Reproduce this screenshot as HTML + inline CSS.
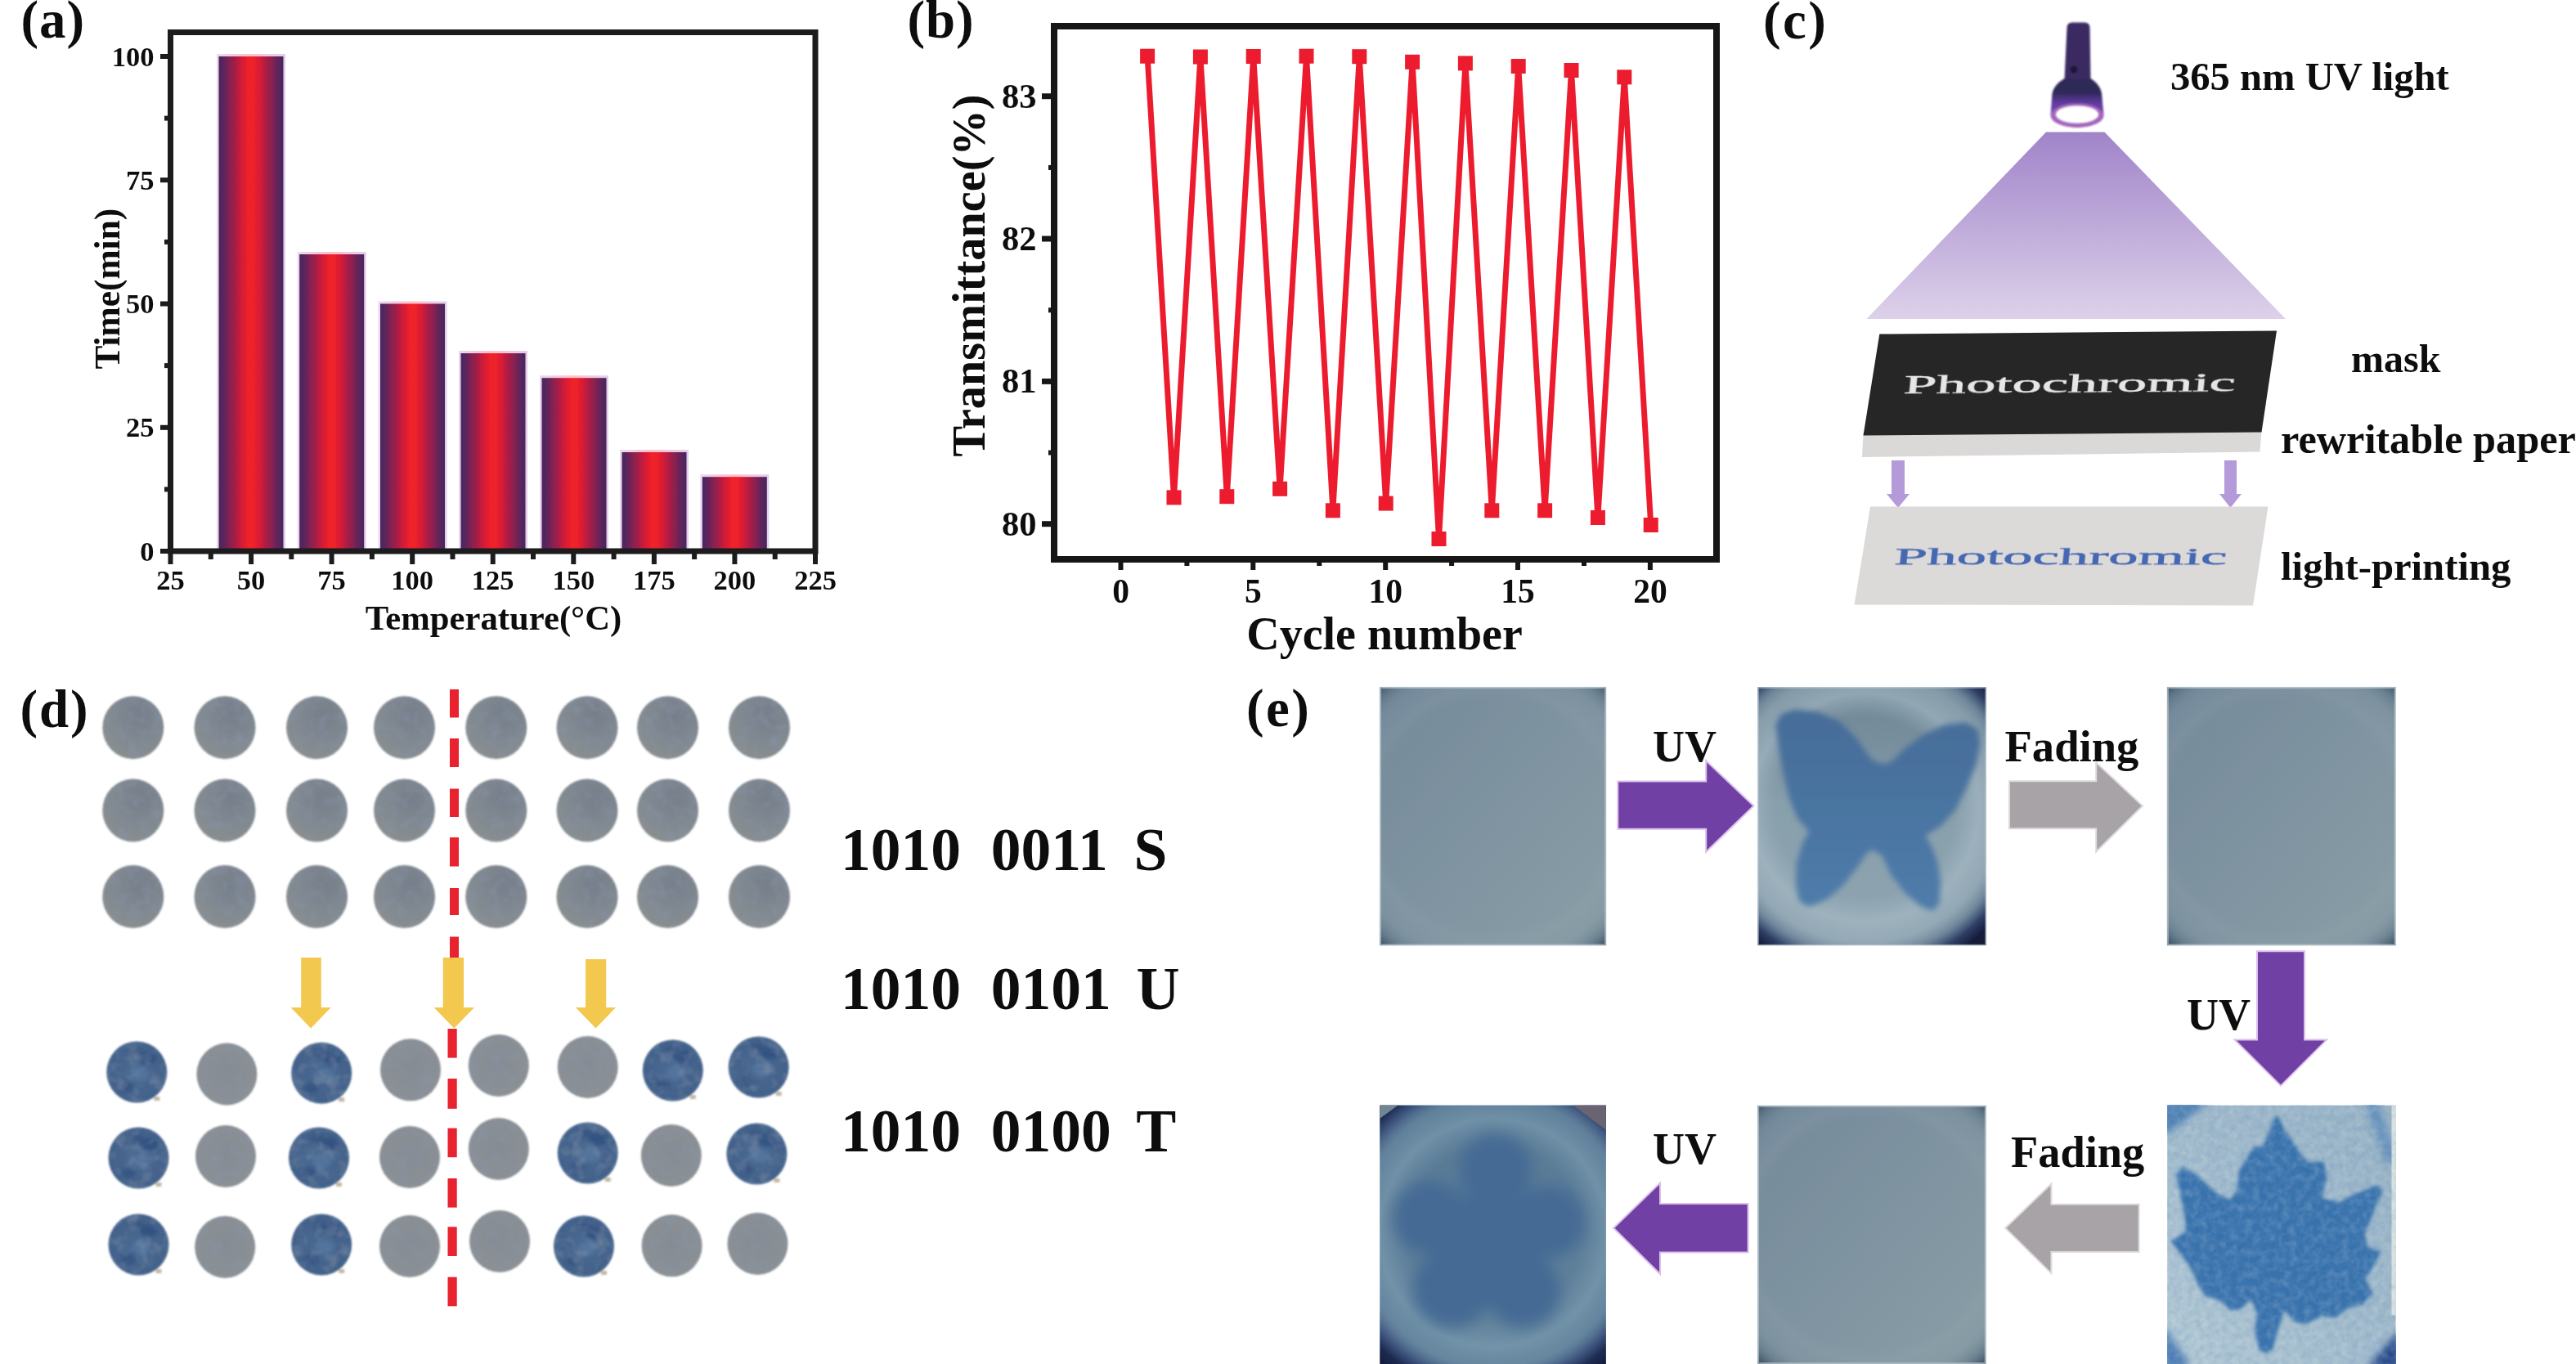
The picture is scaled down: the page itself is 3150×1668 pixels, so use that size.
<!DOCTYPE html>
<html><head><meta charset="utf-8"><title>figure</title>
<style>html,body{margin:0;padding:0;background:#fff;}svg{display:block;}text{font-family:"Liberation Serif",serif;font-weight:bold;fill:#111;}</style></head><body>
<svg width="3150" height="1668" viewBox="0 0 3150 1668">
<defs>
<linearGradient id="bar" x1="0" x2="1" y1="0" y2="0"><stop offset="0" stop-color="#4b275f"/><stop offset="0.05" stop-color="#52265f"/><stop offset="0.19" stop-color="#8c2050"/><stop offset="0.355" stop-color="#d21d38"/><stop offset="0.45" stop-color="#ed2029"/><stop offset="0.55" stop-color="#ed2029"/><stop offset="0.645" stop-color="#d21d38"/><stop offset="0.81" stop-color="#8c2050"/><stop offset="0.95" stop-color="#52265f"/><stop offset="1" stop-color="#4b275f"/></linearGradient>
<linearGradient id="barl" x1="0" x2="1" y1="0" y2="0"><stop offset="0" stop-color="#ead9f0"/><stop offset="0.3" stop-color="#f3c6dc"/><stop offset="0.5" stop-color="#ffbfc8"/><stop offset="0.7" stop-color="#f3c6dc"/><stop offset="1" stop-color="#e2d0ea"/></linearGradient>
<linearGradient id="cone" x1="0" x2="0" y1="0" y2="1"><stop offset="0" stop-color="#a084c9"/><stop offset="1" stop-color="#ddd1ea"/></linearGradient>
<filter id="b05" x="-5%" y="-30%" width="110%" height="160%"><feGaussianBlur stdDeviation="0.7"/></filter>
<filter id="b1" x="-5%" y="-5%" width="110%" height="110%"><feGaussianBlur stdDeviation="1"/></filter>
<filter id="b2" x="-10%" y="-10%" width="120%" height="120%"><feGaussianBlur stdDeviation="2"/></filter>
<filter id="b4" x="-10%" y="-10%" width="120%" height="120%"><feGaussianBlur stdDeviation="3.5"/></filter>
<filter id="b5" x="-10%" y="-10%" width="120%" height="120%"><feGaussianBlur stdDeviation="5"/></filter>
<filter id="b9" x="-20%" y="-20%" width="140%" height="140%"><feGaussianBlur stdDeviation="9"/></filter>
<filter id="b14" x="-30%" y="-30%" width="160%" height="160%"><feGaussianBlur stdDeviation="14"/></filter>
<filter id="gb" x="0" y="0" width="100%" height="100%" filterUnits="userSpaceOnUse"><feGaussianBlur stdDeviation="0.65"/></filter>
</defs>
<rect x="0" y="0" width="3150" height="1668" fill="#fff"/>
<g filter="url(#gb)">
<g id="pa">
<text x="25.5" y="46" font-size="64.8" letter-spacing="1">(a)</text>
<rect x="265.0" y="66.0" width="84" height="608.0" fill="url(#barl)"/>
<rect x="267.5" y="69.0" width="79" height="605.0" fill="url(#bar)"/>
<rect x="363.7" y="308.0" width="84" height="366.0" fill="url(#barl)"/>
<rect x="366.2" y="311.0" width="79" height="363.0" fill="url(#bar)"/>
<rect x="462.5" y="368.5" width="84" height="305.5" fill="url(#barl)"/>
<rect x="465.0" y="371.5" width="79" height="302.5" fill="url(#bar)"/>
<rect x="561.0" y="429.0" width="84" height="245.0" fill="url(#barl)"/>
<rect x="563.5" y="432.0" width="79" height="242.0" fill="url(#bar)"/>
<rect x="660.0" y="459.2" width="84" height="214.8" fill="url(#barl)"/>
<rect x="662.5" y="462.2" width="79" height="211.8" fill="url(#bar)"/>
<rect x="758.0" y="550.0" width="84" height="124.0" fill="url(#barl)"/>
<rect x="760.5" y="553.0" width="79" height="121.0" fill="url(#bar)"/>
<rect x="856.3" y="580.2" width="84" height="93.8" fill="url(#barl)"/>
<rect x="858.8" y="583.2" width="79" height="90.8" fill="url(#bar)"/>
<rect x="208.5" y="39.5" width="788.5" height="634.5" fill="none" stroke="#1c1c1e" stroke-width="7"/>
<line x1="196" x2="208" y1="674.0" y2="674.0" stroke="#1c1c1e" stroke-width="6"/>
<text x="188.5" y="685.5" font-size="34.5" text-anchor="end">0</text>
<line x1="196" x2="208" y1="522.8" y2="522.8" stroke="#1c1c1e" stroke-width="6"/>
<text x="188.5" y="534.2" font-size="34.5" text-anchor="end">25</text>
<line x1="196" x2="208" y1="371.5" y2="371.5" stroke="#1c1c1e" stroke-width="6"/>
<text x="188.5" y="383.0" font-size="34.5" text-anchor="end">50</text>
<line x1="196" x2="208" y1="220.2" y2="220.2" stroke="#1c1c1e" stroke-width="6"/>
<text x="188.5" y="231.8" font-size="34.5" text-anchor="end">75</text>
<line x1="196" x2="208" y1="69.0" y2="69.0" stroke="#1c1c1e" stroke-width="6"/>
<text x="188.5" y="80.5" font-size="34.5" text-anchor="end">100</text>
<line x1="201" x2="208" y1="598.4" y2="598.4" stroke="#1c1c1e" stroke-width="6"/>
<line x1="201" x2="208" y1="447.1" y2="447.1" stroke="#1c1c1e" stroke-width="6"/>
<line x1="201" x2="208" y1="295.9" y2="295.9" stroke="#1c1c1e" stroke-width="6"/>
<line x1="201" x2="208" y1="144.6" y2="144.6" stroke="#1c1c1e" stroke-width="6"/>
<line x1="208.5" x2="208.5" y1="674" y2="690" stroke="#1c1c1e" stroke-width="6"/>
<text x="208.5" y="721" font-size="34.5" text-anchor="middle">25</text>
<line x1="307.1" x2="307.1" y1="674" y2="690" stroke="#1c1c1e" stroke-width="6"/>
<text x="307.1" y="721" font-size="34.5" text-anchor="middle">50</text>
<line x1="405.6" x2="405.6" y1="674" y2="690" stroke="#1c1c1e" stroke-width="6"/>
<text x="405.6" y="721" font-size="34.5" text-anchor="middle">75</text>
<line x1="504.2" x2="504.2" y1="674" y2="690" stroke="#1c1c1e" stroke-width="6"/>
<text x="504.2" y="721" font-size="34.5" text-anchor="middle">100</text>
<line x1="602.7" x2="602.7" y1="674" y2="690" stroke="#1c1c1e" stroke-width="6"/>
<text x="602.7" y="721" font-size="34.5" text-anchor="middle">125</text>
<line x1="701.3" x2="701.3" y1="674" y2="690" stroke="#1c1c1e" stroke-width="6"/>
<text x="701.3" y="721" font-size="34.5" text-anchor="middle">150</text>
<line x1="799.9" x2="799.9" y1="674" y2="690" stroke="#1c1c1e" stroke-width="6"/>
<text x="799.9" y="721" font-size="34.5" text-anchor="middle">175</text>
<line x1="898.4" x2="898.4" y1="674" y2="690" stroke="#1c1c1e" stroke-width="6"/>
<text x="898.4" y="721" font-size="34.5" text-anchor="middle">200</text>
<line x1="997.0" x2="997.0" y1="674" y2="690" stroke="#1c1c1e" stroke-width="6"/>
<text x="997.0" y="721" font-size="34.5" text-anchor="middle">225</text>
<line x1="257.8" x2="257.8" y1="674" y2="684" stroke="#1c1c1e" stroke-width="6"/>
<line x1="356.3" x2="356.3" y1="674" y2="684" stroke="#1c1c1e" stroke-width="6"/>
<line x1="454.9" x2="454.9" y1="674" y2="684" stroke="#1c1c1e" stroke-width="6"/>
<line x1="553.5" x2="553.5" y1="674" y2="684" stroke="#1c1c1e" stroke-width="6"/>
<line x1="652.0" x2="652.0" y1="674" y2="684" stroke="#1c1c1e" stroke-width="6"/>
<line x1="750.6" x2="750.6" y1="674" y2="684" stroke="#1c1c1e" stroke-width="6"/>
<line x1="849.1" x2="849.1" y1="674" y2="684" stroke="#1c1c1e" stroke-width="6"/>
<line x1="947.7" x2="947.7" y1="674" y2="684" stroke="#1c1c1e" stroke-width="6"/>
<text x="603.5" y="770" font-size="42.7" text-anchor="middle">Temperature(°C)</text>
<text transform="translate(146,353.2) rotate(-90)" font-size="43.4" text-anchor="middle">Time(min)</text>
</g>
<g id="pb">
<text x="1109.5" y="46" font-size="64.8" letter-spacing="1">(b)</text>
<rect x="1289" y="32" width="810" height="652" fill="none" stroke="#161618" stroke-width="8"/>
<line x1="1274" x2="1289" y1="640.7" y2="640.7" stroke="#161618" stroke-width="7"/>
<text x="1267.5" y="654.5" font-size="42.5" text-anchor="end">80</text>
<line x1="1274" x2="1289" y1="466.4" y2="466.4" stroke="#161618" stroke-width="7"/>
<text x="1267.5" y="480.2" font-size="42.5" text-anchor="end">81</text>
<line x1="1274" x2="1289" y1="292" y2="292" stroke="#161618" stroke-width="7"/>
<text x="1267.5" y="305.8" font-size="42.5" text-anchor="end">82</text>
<line x1="1274" x2="1289" y1="117.7" y2="117.7" stroke="#161618" stroke-width="7"/>
<text x="1267.5" y="131.5" font-size="42.5" text-anchor="end">83</text>
<line x1="1282" x2="1289" y1="553.5500000000001" y2="553.5500000000001" stroke="#161618" stroke-width="6"/>
<line x1="1282" x2="1289" y1="379.25" y2="379.25" stroke="#161618" stroke-width="6"/>
<line x1="1282" x2="1289" y1="204.95000000000005" y2="204.95000000000005" stroke="#161618" stroke-width="6"/>
<line x1="1370.5" x2="1370.5" y1="684" y2="697" stroke="#161618" stroke-width="6"/>
<text x="1370.5" y="737" font-size="41.5" text-anchor="middle">0</text>
<line x1="1532.3" x2="1532.3" y1="684" y2="697" stroke="#161618" stroke-width="6"/>
<text x="1532.3" y="737" font-size="41.5" text-anchor="middle">5</text>
<line x1="1694.2" x2="1694.2" y1="684" y2="697" stroke="#161618" stroke-width="6"/>
<text x="1694.2" y="737" font-size="41.5" text-anchor="middle">10</text>
<line x1="1856.0" x2="1856.0" y1="684" y2="697" stroke="#161618" stroke-width="6"/>
<text x="1856.0" y="737" font-size="41.5" text-anchor="middle">15</text>
<line x1="2017.9" x2="2017.9" y1="684" y2="697" stroke="#161618" stroke-width="6"/>
<text x="2017.9" y="737" font-size="41.5" text-anchor="middle">20</text>
<line x1="1451.4" x2="1451.4" y1="684" y2="692" stroke="#161618" stroke-width="6"/>
<line x1="1613.3" x2="1613.3" y1="684" y2="692" stroke="#161618" stroke-width="6"/>
<line x1="1775.1" x2="1775.1" y1="684" y2="692" stroke="#161618" stroke-width="6"/>
<line x1="1937.0" x2="1937.0" y1="684" y2="692" stroke="#161618" stroke-width="6"/>
<text x="1693" y="794" font-size="56" text-anchor="middle">Cycle number</text>
<text transform="translate(1204,337) rotate(-90)" font-size="56.3" text-anchor="middle">Transmittance(%)</text>
<polyline fill="none" stroke="#ec1c2e" stroke-width="7" stroke-linejoin="miter" points="1403.1,68.7 1435.5,608.4 1467.9,69.5 1500.3,607.2 1532.7,69.0 1565.1,597.8 1597.5,68.7 1629.9,624.3 1662.3,69.2 1694.7,615.6 1727.1,75.8 1759.5,659.0 1791.9,77.4 1824.3,624.3 1856.7,81.0 1889.1,624.3 1921.5,86.0 1953.9,633.0 1986.3,94.3 2018.7,642.0"/>
<rect x="1394.1" y="59.7" width="18" height="18" fill="#ec1c2e"/>
<rect x="1426.5" y="599.4" width="18" height="18" fill="#ec1c2e"/>
<rect x="1458.9" y="60.5" width="18" height="18" fill="#ec1c2e"/>
<rect x="1491.3" y="598.2" width="18" height="18" fill="#ec1c2e"/>
<rect x="1523.7" y="60.0" width="18" height="18" fill="#ec1c2e"/>
<rect x="1556.1" y="588.8" width="18" height="18" fill="#ec1c2e"/>
<rect x="1588.5" y="59.7" width="18" height="18" fill="#ec1c2e"/>
<rect x="1620.9" y="615.3" width="18" height="18" fill="#ec1c2e"/>
<rect x="1653.3" y="60.2" width="18" height="18" fill="#ec1c2e"/>
<rect x="1685.7" y="606.6" width="18" height="18" fill="#ec1c2e"/>
<rect x="1718.1" y="66.8" width="18" height="18" fill="#ec1c2e"/>
<rect x="1750.5" y="650.0" width="18" height="18" fill="#ec1c2e"/>
<rect x="1782.9" y="68.4" width="18" height="18" fill="#ec1c2e"/>
<rect x="1815.3" y="615.3" width="18" height="18" fill="#ec1c2e"/>
<rect x="1847.7" y="72.0" width="18" height="18" fill="#ec1c2e"/>
<rect x="1880.1" y="615.3" width="18" height="18" fill="#ec1c2e"/>
<rect x="1912.5" y="77.0" width="18" height="18" fill="#ec1c2e"/>
<rect x="1944.9" y="624.0" width="18" height="18" fill="#ec1c2e"/>
<rect x="1977.3" y="85.3" width="18" height="18" fill="#ec1c2e"/>
<rect x="2009.7" y="633.0" width="18" height="18" fill="#ec1c2e"/>
</g>
<g id="pc">
<text x="2156" y="46.5" font-size="64.8" letter-spacing="2.5">(c)</text>
<polygon points="2502,161.5 2573.5,161.5 2795,390 2282.5,390" fill="url(#cone)"/>
<defs><linearGradient id="fhead" x1="0" x2="0" y1="0" y2="1"><stop offset="0" stop-color="#2f2958"/><stop offset="0.28" stop-color="#2f2958"/><stop offset="0.5" stop-color="#5f3ba0"/><stop offset="0.72" stop-color="#7443b4"/></linearGradient></defs>
<g filter="url(#b1)">
<path d="M2527.5,34 Q2527.5,27.5 2534,27.5 L2549,27.5 Q2555.5,27.5 2555.5,34 L2556.5,97 L2524.5,97 Z" fill="#3a2a62"/>
<circle cx="2536" cy="85" r="4.5" fill="#1d1838"/>
<path d="M2524.5,96 L2556.5,96 Q2568,103 2570,114 L2572.5,141 A32.5,15 0 0 1 2507.5,141 L2509.5,114 Q2512,103 2524.5,96 Z" fill="url(#fhead)"/>
<ellipse cx="2540" cy="141" rx="32" ry="14.5" fill="#a765bd"/>
<ellipse cx="2540" cy="140" rx="26" ry="10.5" fill="#ffffff"/>
</g>
<text x="2654" y="110" font-size="48.6">365 nm UV light</text>
<polygon points="2278.5,530 2765.5,526 2763.5,552.5 2277,559" fill="#dbd9d8"/>
<polygon points="2298.3,408.5 2784,404.5 2765.5,528.5 2278.5,532.5" fill="#252527"/>
<text transform="translate(2327,481) rotate(-0.4) skewX(-6)" x="0" y="0" font-size="30.5" textLength="406" lengthAdjust="spacingAndGlyphs" filter="url(#b05)" style="font-weight:normal;fill:#e6e6e6;stroke:#e6e6e6;stroke-width:0.5">Photochromic</text>
<polygon points="2313,563 2329,563 2329,604 2335,604 2321.0,621 2307,604 2313,604" fill="#b49ad9"/>
<polygon points="2720,563 2735,563 2735,604 2741,604 2727.5,621 2714,604 2720,604" fill="#b49ad9"/>
<polygon points="2287,619.5 2773.5,619.5 2755,740.5 2267.5,739.5" fill="#dcdad9"/>
<text transform="translate(2315.5,690.3) skewX(-6)" x="0" y="0" font-size="29.5" textLength="407" lengthAdjust="spacingAndGlyphs" filter="url(#b05)" style="font-weight:normal;fill:#4567b2;stroke:#4567b2;stroke-width:0.5">Photochromic</text>
<text x="2875" y="454.5" font-size="48">mask</text>
<text x="2789" y="554" font-size="50.3">rewritable paper</text>
<text x="2789" y="708.5" font-size="48.7">light-printing</text>
</g>
<g id="pd">
<text x="24.5" y="888.5" font-size="64.8" letter-spacing="2">(d)</text>
<defs><radialGradient id="cg" cx="0.62" cy="0.3" r="0.75"><stop offset="0" stop-color="#757e8a"/><stop offset="0.6" stop-color="#818991"/><stop offset="1" stop-color="#8a8f8f"/></radialGradient><radialGradient id="cg2" cx="0.5" cy="0.45" r="0.6"><stop offset="0" stop-color="#868c93"/><stop offset="0.8" stop-color="#8a9095"/><stop offset="1" stop-color="#8f9496"/></radialGradient><radialGradient id="cb" cx="0.5" cy="0.5" r="0.6"><stop offset="0" stop-color="#4a6a93"/><stop offset="0.75" stop-color="#43628b"/><stop offset="1" stop-color="#4f6c8e"/></radialGradient></defs>
<defs><clipPath id="circclip"><ellipse cx="162.8" cy="889.8" rx="36.5" ry="37.5"/><ellipse cx="275" cy="889.8" rx="36.5" ry="37.5"/><ellipse cx="387.5" cy="889.8" rx="36.5" ry="37.5"/><ellipse cx="494.5" cy="889.8" rx="36.5" ry="37.5"/><ellipse cx="606.8" cy="889.8" rx="36.5" ry="37.5"/><ellipse cx="718" cy="889.8" rx="36.5" ry="37.5"/><ellipse cx="816.5" cy="889.8" rx="36.5" ry="37.5"/><ellipse cx="928.5" cy="889.8" rx="36.5" ry="37.5"/><ellipse cx="162.8" cy="991" rx="36.5" ry="37.5"/><ellipse cx="275" cy="991" rx="36.5" ry="37.5"/><ellipse cx="387.5" cy="991" rx="36.5" ry="37.5"/><ellipse cx="494.5" cy="991" rx="36.5" ry="37.5"/><ellipse cx="606.8" cy="991" rx="36.5" ry="37.5"/><ellipse cx="718" cy="991" rx="36.5" ry="37.5"/><ellipse cx="816.5" cy="991" rx="36.5" ry="37.5"/><ellipse cx="928.5" cy="991" rx="36.5" ry="37.5"/><ellipse cx="162.8" cy="1096.5" rx="36.5" ry="37.5"/><ellipse cx="275" cy="1096.5" rx="36.5" ry="37.5"/><ellipse cx="387.5" cy="1096.5" rx="36.5" ry="37.5"/><ellipse cx="494.5" cy="1096.5" rx="36.5" ry="37.5"/><ellipse cx="606.8" cy="1096.5" rx="36.5" ry="37.5"/><ellipse cx="718" cy="1096.5" rx="36.5" ry="37.5"/><ellipse cx="816.5" cy="1096.5" rx="36.5" ry="37.5"/><ellipse cx="928.5" cy="1096.5" rx="36.5" ry="37.5"/><ellipse cx="167.3" cy="1311" rx="36" ry="37"/><ellipse cx="277.4" cy="1313.5" rx="36" ry="37"/><ellipse cx="393.2" cy="1312.2" rx="36" ry="37"/><ellipse cx="502" cy="1308.3" rx="36" ry="37"/><ellipse cx="609.8" cy="1303" rx="36" ry="37"/><ellipse cx="718.7" cy="1305" rx="36" ry="37"/><ellipse cx="822.8" cy="1309" rx="36" ry="37"/><ellipse cx="927.7" cy="1305" rx="36" ry="37"/><ellipse cx="169.5" cy="1416" rx="36" ry="37"/><ellipse cx="276" cy="1414" rx="36" ry="37"/><ellipse cx="390" cy="1416" rx="36" ry="37"/><ellipse cx="501" cy="1415" rx="36" ry="37"/><ellipse cx="609.8" cy="1405" rx="36" ry="37"/><ellipse cx="718.7" cy="1410" rx="36" ry="37"/><ellipse cx="820.8" cy="1413" rx="36" ry="37"/><ellipse cx="925.4" cy="1411" rx="36" ry="37"/><ellipse cx="169.5" cy="1522" rx="36" ry="37"/><ellipse cx="275.2" cy="1525" rx="36" ry="37"/><ellipse cx="393.2" cy="1522" rx="36" ry="37"/><ellipse cx="501" cy="1524" rx="36" ry="37"/><ellipse cx="611" cy="1518" rx="36" ry="37"/><ellipse cx="714" cy="1524" rx="36" ry="37"/><ellipse cx="821.6" cy="1523.3" rx="36" ry="37"/><ellipse cx="926.5" cy="1521" rx="36" ry="37"/></clipPath><filter id="mott" x="0" y="0" width="100%" height="100%"><feTurbulence type="fractalNoise" baseFrequency="0.07" numOctaves="2" seed="7" result="n"/><feColorMatrix in="n" type="matrix" values="0 0 0 0 0.25  0 0 0 0 0.30  0 0 0 0 0.40  2.2 0 0 0 -0.95"/></filter></defs>
<g filter="url(#b1)">
<ellipse cx="162.8" cy="889.8" rx="37.5" ry="38.5" fill="url(#cg)"/>
<ellipse cx="275" cy="889.8" rx="37.5" ry="38.5" fill="url(#cg)"/>
<ellipse cx="387.5" cy="889.8" rx="37.5" ry="38.5" fill="url(#cg)"/>
<ellipse cx="494.5" cy="889.8" rx="37.5" ry="38.5" fill="url(#cg)"/>
<ellipse cx="606.8" cy="889.8" rx="37.5" ry="38.5" fill="url(#cg)"/>
<ellipse cx="718" cy="889.8" rx="37.5" ry="38.5" fill="url(#cg)"/>
<ellipse cx="816.5" cy="889.8" rx="37.5" ry="38.5" fill="url(#cg)"/>
<ellipse cx="928.5" cy="889.8" rx="37.5" ry="38.5" fill="url(#cg)"/>
<ellipse cx="162.8" cy="991" rx="37.5" ry="38.5" fill="url(#cg)"/>
<ellipse cx="275" cy="991" rx="37.5" ry="38.5" fill="url(#cg)"/>
<ellipse cx="387.5" cy="991" rx="37.5" ry="38.5" fill="url(#cg)"/>
<ellipse cx="494.5" cy="991" rx="37.5" ry="38.5" fill="url(#cg)"/>
<ellipse cx="606.8" cy="991" rx="37.5" ry="38.5" fill="url(#cg)"/>
<ellipse cx="718" cy="991" rx="37.5" ry="38.5" fill="url(#cg)"/>
<ellipse cx="816.5" cy="991" rx="37.5" ry="38.5" fill="url(#cg)"/>
<ellipse cx="928.5" cy="991" rx="37.5" ry="38.5" fill="url(#cg)"/>
<ellipse cx="162.8" cy="1096.5" rx="37.5" ry="38.5" fill="url(#cg)"/>
<ellipse cx="275" cy="1096.5" rx="37.5" ry="38.5" fill="url(#cg)"/>
<ellipse cx="387.5" cy="1096.5" rx="37.5" ry="38.5" fill="url(#cg)"/>
<ellipse cx="494.5" cy="1096.5" rx="37.5" ry="38.5" fill="url(#cg)"/>
<ellipse cx="606.8" cy="1096.5" rx="37.5" ry="38.5" fill="url(#cg)"/>
<ellipse cx="718" cy="1096.5" rx="37.5" ry="38.5" fill="url(#cg)"/>
<ellipse cx="816.5" cy="1096.5" rx="37.5" ry="38.5" fill="url(#cg)"/>
<ellipse cx="928.5" cy="1096.5" rx="37.5" ry="38.5" fill="url(#cg)"/>
<ellipse cx="167.3" cy="1311" rx="37" ry="37.5" fill="url(#cb)"/>
<g filter="url(#b2)"><ellipse cx="180.3" cy="1294" rx="11" ry="8" fill="#2d4c7d" opacity="0.75"/><ellipse cx="165.3" cy="1287" rx="9" ry="6" fill="#31507f" opacity="0.6"/><ellipse cx="155.3" cy="1329" rx="9" ry="7" fill="#2f4e7e" opacity="0.65"/><ellipse cx="171.3" cy="1314" rx="12" ry="9" fill="#5a7ca6" opacity="0.55"/></g>
<rect x="188.3" y="1341" width="7" height="5" fill="#b5a68c" opacity="0.8"/>
<ellipse cx="277.4" cy="1313.5" rx="37" ry="38" fill="url(#cg2)"/>
<ellipse cx="393.2" cy="1312.2" rx="37" ry="37.5" fill="url(#cb)"/>
<g filter="url(#b2)"><ellipse cx="406.2" cy="1295.2" rx="11" ry="8" fill="#2d4c7d" opacity="0.75"/><ellipse cx="391.2" cy="1288.2" rx="9" ry="6" fill="#31507f" opacity="0.6"/><ellipse cx="381.2" cy="1330.2" rx="9" ry="7" fill="#2f4e7e" opacity="0.65"/><ellipse cx="397.2" cy="1315.2" rx="12" ry="9" fill="#5a7ca6" opacity="0.55"/></g>
<rect x="414.2" y="1342.2" width="7" height="5" fill="#b5a68c" opacity="0.8"/>
<ellipse cx="502" cy="1308.3" rx="37" ry="38" fill="url(#cg2)"/>
<ellipse cx="609.8" cy="1303" rx="37" ry="38" fill="url(#cg2)"/>
<ellipse cx="718.7" cy="1305" rx="37" ry="38" fill="url(#cg2)"/>
<ellipse cx="822.8" cy="1309" rx="37" ry="37.5" fill="url(#cb)"/>
<g filter="url(#b2)"><ellipse cx="835.8" cy="1292" rx="11" ry="8" fill="#2d4c7d" opacity="0.75"/><ellipse cx="820.8" cy="1285" rx="9" ry="6" fill="#31507f" opacity="0.6"/><ellipse cx="810.8" cy="1327" rx="9" ry="7" fill="#2f4e7e" opacity="0.65"/><ellipse cx="826.8" cy="1312" rx="12" ry="9" fill="#5a7ca6" opacity="0.55"/></g>
<rect x="843.8" y="1339" width="7" height="5" fill="#b5a68c" opacity="0.8"/>
<ellipse cx="927.7" cy="1305" rx="37" ry="37.5" fill="url(#cb)"/>
<g filter="url(#b2)"><ellipse cx="940.7" cy="1288" rx="11" ry="8" fill="#2d4c7d" opacity="0.75"/><ellipse cx="925.7" cy="1281" rx="9" ry="6" fill="#31507f" opacity="0.6"/><ellipse cx="915.7" cy="1323" rx="9" ry="7" fill="#2f4e7e" opacity="0.65"/><ellipse cx="931.7" cy="1308" rx="12" ry="9" fill="#5a7ca6" opacity="0.55"/></g>
<rect x="948.7" y="1335" width="7" height="5" fill="#b5a68c" opacity="0.8"/>
<ellipse cx="169.5" cy="1416" rx="37" ry="37.5" fill="url(#cb)"/>
<g filter="url(#b2)"><ellipse cx="182.5" cy="1399" rx="11" ry="8" fill="#2d4c7d" opacity="0.75"/><ellipse cx="167.5" cy="1392" rx="9" ry="6" fill="#31507f" opacity="0.6"/><ellipse cx="157.5" cy="1434" rx="9" ry="7" fill="#2f4e7e" opacity="0.65"/><ellipse cx="173.5" cy="1419" rx="12" ry="9" fill="#5a7ca6" opacity="0.55"/></g>
<rect x="190.5" y="1446" width="7" height="5" fill="#b5a68c" opacity="0.8"/>
<ellipse cx="276" cy="1414" rx="37" ry="38" fill="url(#cg2)"/>
<ellipse cx="390" cy="1416" rx="37" ry="37.5" fill="url(#cb)"/>
<g filter="url(#b2)"><ellipse cx="403" cy="1399" rx="11" ry="8" fill="#2d4c7d" opacity="0.75"/><ellipse cx="388" cy="1392" rx="9" ry="6" fill="#31507f" opacity="0.6"/><ellipse cx="378" cy="1434" rx="9" ry="7" fill="#2f4e7e" opacity="0.65"/><ellipse cx="394" cy="1419" rx="12" ry="9" fill="#5a7ca6" opacity="0.55"/></g>
<rect x="411" y="1446" width="7" height="5" fill="#b5a68c" opacity="0.8"/>
<ellipse cx="501" cy="1415" rx="37" ry="38" fill="url(#cg2)"/>
<ellipse cx="609.8" cy="1405" rx="37" ry="38" fill="url(#cg2)"/>
<ellipse cx="718.7" cy="1410" rx="37" ry="37.5" fill="url(#cb)"/>
<g filter="url(#b2)"><ellipse cx="731.7" cy="1393" rx="11" ry="8" fill="#2d4c7d" opacity="0.75"/><ellipse cx="716.7" cy="1386" rx="9" ry="6" fill="#31507f" opacity="0.6"/><ellipse cx="706.7" cy="1428" rx="9" ry="7" fill="#2f4e7e" opacity="0.65"/><ellipse cx="722.7" cy="1413" rx="12" ry="9" fill="#5a7ca6" opacity="0.55"/></g>
<rect x="739.7" y="1440" width="7" height="5" fill="#b5a68c" opacity="0.8"/>
<ellipse cx="820.8" cy="1413" rx="37" ry="38" fill="url(#cg2)"/>
<ellipse cx="925.4" cy="1411" rx="37" ry="37.5" fill="url(#cb)"/>
<g filter="url(#b2)"><ellipse cx="938.4" cy="1394" rx="11" ry="8" fill="#2d4c7d" opacity="0.75"/><ellipse cx="923.4" cy="1387" rx="9" ry="6" fill="#31507f" opacity="0.6"/><ellipse cx="913.4" cy="1429" rx="9" ry="7" fill="#2f4e7e" opacity="0.65"/><ellipse cx="929.4" cy="1414" rx="12" ry="9" fill="#5a7ca6" opacity="0.55"/></g>
<rect x="946.4" y="1441" width="7" height="5" fill="#b5a68c" opacity="0.8"/>
<ellipse cx="169.5" cy="1522" rx="37" ry="37.5" fill="url(#cb)"/>
<g filter="url(#b2)"><ellipse cx="182.5" cy="1505" rx="11" ry="8" fill="#2d4c7d" opacity="0.75"/><ellipse cx="167.5" cy="1498" rx="9" ry="6" fill="#31507f" opacity="0.6"/><ellipse cx="157.5" cy="1540" rx="9" ry="7" fill="#2f4e7e" opacity="0.65"/><ellipse cx="173.5" cy="1525" rx="12" ry="9" fill="#5a7ca6" opacity="0.55"/></g>
<rect x="190.5" y="1552" width="7" height="5" fill="#b5a68c" opacity="0.8"/>
<ellipse cx="275.2" cy="1525" rx="37" ry="38" fill="url(#cg2)"/>
<ellipse cx="393.2" cy="1522" rx="37" ry="37.5" fill="url(#cb)"/>
<g filter="url(#b2)"><ellipse cx="406.2" cy="1505" rx="11" ry="8" fill="#2d4c7d" opacity="0.75"/><ellipse cx="391.2" cy="1498" rx="9" ry="6" fill="#31507f" opacity="0.6"/><ellipse cx="381.2" cy="1540" rx="9" ry="7" fill="#2f4e7e" opacity="0.65"/><ellipse cx="397.2" cy="1525" rx="12" ry="9" fill="#5a7ca6" opacity="0.55"/></g>
<rect x="414.2" y="1552" width="7" height="5" fill="#b5a68c" opacity="0.8"/>
<ellipse cx="501" cy="1524" rx="37" ry="38" fill="url(#cg2)"/>
<ellipse cx="611" cy="1518" rx="37" ry="38" fill="url(#cg2)"/>
<ellipse cx="714" cy="1524" rx="37" ry="37.5" fill="url(#cb)"/>
<g filter="url(#b2)"><ellipse cx="727" cy="1507" rx="11" ry="8" fill="#2d4c7d" opacity="0.75"/><ellipse cx="712" cy="1500" rx="9" ry="6" fill="#31507f" opacity="0.6"/><ellipse cx="702" cy="1542" rx="9" ry="7" fill="#2f4e7e" opacity="0.65"/><ellipse cx="718" cy="1527" rx="12" ry="9" fill="#5a7ca6" opacity="0.55"/></g>
<rect x="735" y="1554" width="7" height="5" fill="#b5a68c" opacity="0.8"/>
<ellipse cx="821.6" cy="1523.3" rx="37" ry="38" fill="url(#cg2)"/>
<ellipse cx="926.5" cy="1521" rx="37" ry="38" fill="url(#cg2)"/>
</g>
<rect x="100" y="840" width="880" height="740" filter="url(#mott)" opacity="0.5" clip-path="url(#circclip)"/>
<rect x="550" y="843" width="11" height="34.5" fill="#e8202f"/>
<rect x="550" y="903" width="11" height="35" fill="#e8202f"/>
<rect x="550" y="964.5" width="11" height="34.5" fill="#e8202f"/>
<rect x="550" y="1024" width="11" height="35.5" fill="#e8202f"/>
<rect x="550" y="1086" width="11" height="33" fill="#e8202f"/>
<rect x="550" y="1145.5" width="11" height="26.5" fill="#e8202f"/>
<rect x="547.5" y="1258" width="11.2" height="35.59999999999991" fill="#e8202f"/>
<rect x="547.5" y="1319" width="11.2" height="36.799999999999955" fill="#e8202f"/>
<rect x="547.5" y="1379.6" width="11.2" height="35.600000000000136" fill="#e8202f"/>
<rect x="547.5" y="1441" width="11.2" height="35.59999999999991" fill="#e8202f"/>
<rect x="547.5" y="1500.3" width="11.2" height="35.700000000000045" fill="#e8202f"/>
<rect x="547.5" y="1561.7" width="11.2" height="35.59999999999991" fill="#e8202f"/>
<polygon points="368.2,1171 392.8,1171 392.8,1232 404.7,1232 380.15,1257.5 355.6,1232 368.2,1232" fill="#f3c850"/>
<polygon points="541.7,1171 567,1171 567,1232 580,1232 555.3,1257.5 530.6,1232 541.7,1232" fill="#f3c850"/>
<polygon points="716,1173 741.2,1173 741.2,1232 753,1232 728.5,1257.5 704,1232 716,1232" fill="#f3c850"/>
<text x="1028" y="1063.8" font-size="73.5" xml:space="preserve">1010  0011<tspan dx="-5"> </tspan> S</text>
<text x="1028" y="1234.3" font-size="73.5" xml:space="preserve">1010  0101<tspan dx="-6"> </tspan> U</text>
<text x="1028" y="1408.2" font-size="73.5" xml:space="preserve">1010  0100<tspan dx="-5"> </tspan> T</text>
</g>
<g id="pe">
<text x="1524" y="888" font-size="64.8" letter-spacing="2.5">(e)</text>
<text x="2021" y="930.5" font-size="54">UV</text>
<text x="2451.5" y="930.7" font-size="54.6">Fading</text>
<text x="2674" y="1258.8" font-size="54">UV</text>
<text x="2459" y="1427.2" font-size="54.4">Fading</text>
<text x="2021" y="1422.5" font-size="54">UV</text>
<defs><clipPath id="cp1"><rect x="1687.2" y="840.2" width="276.8" height="316"/></clipPath><linearGradient id="lg1" x1="0" y1="0" x2="1" y2="1"><stop offset="0" stop-color="#74899a"/><stop offset="1" stop-color="#8a9ea7"/></linearGradient><radialGradient id="vg1" gradientUnits="userSpaceOnUse" cx="1825.6" cy="996.2" r="211"><stop offset="0" stop-color="#8fa3ad" stop-opacity="0"/><stop offset="0.66" stop-color="#8fa3ad" stop-opacity="0"/><stop offset="0.74" stop-color="#9db0ba" stop-opacity="0.12"/><stop offset="0.84" stop-color="#7a8f9d" stop-opacity="0.10"/><stop offset="0.93" stop-color="#4c6478" stop-opacity="0.45"/><stop offset="1" stop-color="#2a3f55" stop-opacity="0.85"/></radialGradient></defs>
<g clip-path="url(#cp1)">
<rect x="1687.2" y="840.2" width="276.8" height="316" fill="url(#lg1)"/>
<rect x="1687.2" y="840.2" width="276.8" height="316" fill="url(#vg1)"/>
</g>
<rect x="1687.95" y="840.95" width="275.3" height="314.5" fill="none" stroke="#b9c7cf" stroke-width="2.2" opacity="0.7"/>
<defs><clipPath id="cp3"><rect x="2650" y="840.2" width="279.6" height="316"/></clipPath><linearGradient id="lg3" x1="0" y1="0" x2="1" y2="1"><stop offset="0" stop-color="#74899a"/><stop offset="1" stop-color="#8a9ea7"/></linearGradient><radialGradient id="vg3" gradientUnits="userSpaceOnUse" cx="2789.8" cy="996.2" r="211"><stop offset="0" stop-color="#8fa3ad" stop-opacity="0"/><stop offset="0.66" stop-color="#8fa3ad" stop-opacity="0"/><stop offset="0.74" stop-color="#9db0ba" stop-opacity="0.12"/><stop offset="0.84" stop-color="#7a8f9d" stop-opacity="0.10"/><stop offset="0.93" stop-color="#4c6478" stop-opacity="0.45"/><stop offset="1" stop-color="#2a3f55" stop-opacity="0.85"/></radialGradient></defs>
<g clip-path="url(#cp3)">
<rect x="2650" y="840.2" width="279.6" height="316" fill="url(#lg3)"/>
<rect x="2650" y="840.2" width="279.6" height="316" fill="url(#vg3)"/>
</g>
<rect x="2650.75" y="840.95" width="278.1" height="314.5" fill="none" stroke="#b9c7cf" stroke-width="2.2" opacity="0.7"/>
<defs><clipPath id="cp5"><rect x="2149.2" y="1352" width="279.4" height="316"/></clipPath><linearGradient id="lg5" x1="0" y1="0" x2="1" y2="1"><stop offset="0" stop-color="#74899a"/><stop offset="1" stop-color="#8a9ea7"/></linearGradient><radialGradient id="vg5" gradientUnits="userSpaceOnUse" cx="2288.9" cy="1508.0" r="211"><stop offset="0" stop-color="#8fa3ad" stop-opacity="0"/><stop offset="0.66" stop-color="#8fa3ad" stop-opacity="0"/><stop offset="0.74" stop-color="#9db0ba" stop-opacity="0.12"/><stop offset="0.84" stop-color="#7a8f9d" stop-opacity="0.10"/><stop offset="0.93" stop-color="#4c6478" stop-opacity="0.45"/><stop offset="1" stop-color="#2a3f55" stop-opacity="0.85"/></radialGradient></defs>
<g clip-path="url(#cp5)">
<rect x="2149.2" y="1352" width="279.4" height="316" fill="url(#lg5)"/>
<rect x="2149.2" y="1352" width="279.4" height="316" fill="url(#vg5)"/>
</g>
<rect x="2149.95" y="1352.75" width="277.9" height="314.5" fill="none" stroke="#b9c7cf" stroke-width="2.2" opacity="0.7"/>
<defs><clipPath id="cp2"><rect x="2149.3" y="840.3" width="279.5" height="316"/></clipPath><linearGradient id="lg2" x1="0" y1="0" x2="0" y2="1"><stop offset="0" stop-color="#6d8595"/><stop offset="0.22" stop-color="#788f9e"/><stop offset="0.45" stop-color="#889fac"/><stop offset="1" stop-color="#8fa5b1"/></linearGradient><radialGradient id="rg2" gradientUnits="userSpaceOnUse" cx="2280.3" cy="987.3" r="211"><stop offset="0" stop-color="#a0b5c1" stop-opacity="0"/><stop offset="0.52" stop-color="#a0b5c1" stop-opacity="0"/><stop offset="0.66" stop-color="#a9bcc7" stop-opacity="0.6"/><stop offset="0.78" stop-color="#98adb9" stop-opacity="0.55"/><stop offset="0.86" stop-color="#6a8197" stop-opacity="0.85"/><stop offset="0.93" stop-color="#2e3f66" stop-opacity="1"/><stop offset="1" stop-color="#131a38" stop-opacity="1"/></radialGradient></defs>
<g clip-path="url(#cp2)">
<rect x="2149.3" y="840.3" width="279.5" height="316" fill="url(#lg2)"/>
<rect x="2149.3" y="840.3" width="279.5" height="316" fill="url(#rg2)"/>
<defs><linearGradient id="bfg" x1="0" y1="0" x2="0" y2="1"><stop offset="0" stop-color="#456c98"/><stop offset="1" stop-color="#4f7caa"/></linearGradient></defs>
<polygon points="2289.5,929.7 2269.6,902.3 2249.6,882.3 2224.7,871.1 2194.8,867.4 2177.4,873.6 2171.1,887.3 2174.9,912.2 2179.8,942.1 2187.3,974.5 2197.3,999.5 2212.2,1016.9 2204.8,1029.4 2197.3,1054.3 2196.0,1079.2 2199.8,1101.7 2212.2,1109.1 2234.7,1099.2 2254.6,1081.7 2272.1,1059.3 2282.0,1044.3 2289.5,1039.3 2302.0,1046.8 2311.9,1069.3 2329.4,1091.7 2349.3,1109.1 2364.3,1114.1 2371.7,1104.1 2373.0,1079.2 2369.3,1054.3 2361.8,1034.4 2354.3,1021.9 2374.2,1009.4 2391.7,989.5 2404.1,964.6 2416.6,934.7 2421.6,909.8 2419.1,892.3 2404.1,883.6 2379.2,886.1 2354.3,897.3 2329.4,914.7 2314.4,929.7 2304.5,934.7" fill="url(#bfg)" filter="url(#b4)"/>
</g>
<rect x="2150.05" y="841.05" width="278.0" height="314.5" fill="none" stroke="#b9c7cf" stroke-width="1.5" opacity="0.7"/>
<defs><clipPath id="cp6"><rect x="1687.4" y="1351.7" width="276.4" height="316.5"/></clipPath><linearGradient id="lg6" x1="0" y1="0" x2="0" y2="1"><stop offset="0" stop-color="#587994"/><stop offset="0.5" stop-color="#5d7e99"/><stop offset="1" stop-color="#64859d"/></linearGradient><radialGradient id="rg6" gradientUnits="userSpaceOnUse" cx="1826.4" cy="1507.7" r="211"><stop offset="0" stop-color="#7292a8" stop-opacity="0"/><stop offset="0.5" stop-color="#7292a8" stop-opacity="0"/><stop offset="0.66" stop-color="#7898ad" stop-opacity="0.75"/><stop offset="0.78" stop-color="#6787a0" stop-opacity="0.6"/><stop offset="0.86" stop-color="#3f5780" stop-opacity="0.95"/><stop offset="0.93" stop-color="#1e2b52" stop-opacity="1"/><stop offset="1" stop-color="#141c3c" stop-opacity="1"/></radialGradient></defs>
<g clip-path="url(#cp6)">
<rect x="1687.4" y="1351.7" width="276.4" height="316.5" fill="url(#lg6)"/>
<rect x="1687.4" y="1351.7" width="276.4" height="316.5" fill="url(#rg6)"/>
<polygon points="1923.8000000000002,1351.7 1963.8000000000002,1351.7 1963.8000000000002,1381.7" fill="#6a6471"/>
<polygon points="1687.4,1351.7 1709.4,1351.7 1687.4,1367.7" fill="#6f8791"/>
<g filter="url(#b9)" fill="#456a94">
<circle cx="1828.7" cy="1431.4" r="44.5"/>
<circle cx="1749.3" cy="1489.1" r="45.7"/>
<circle cx="1775.8" cy="1575.6" r="48.1"/>
<circle cx="1862.4" cy="1578.0" r="45.7"/>
<circle cx="1893.6" cy="1493.9" r="44.5"/>
<circle cx="1819.1" cy="1513.1" r="55.3"/>
</g>
</g>
<defs><clipPath id="cp4"><rect x="2650.2" y="1351.7" width="279.3" height="316.5"/></clipPath><linearGradient id="lg4" x1="1" y1="0" x2="0" y2="1"><stop offset="0" stop-color="#97b2c5"/><stop offset="0.5" stop-color="#a0bacb"/><stop offset="1" stop-color="#b2c9d5"/></linearGradient><filter id="tex" x="0" y="0" width="100%" height="100%"><feTurbulence type="fractalNoise" baseFrequency="0.11" numOctaves="2" seed="4" result="n"/><feColorMatrix in="n" type="matrix" values="0 0 0 0 1  0 0 0 0 1  0 0 0 0 1  1.1 0 0 0 -0.42"/></filter><filter id="texd" x="0" y="0" width="100%" height="100%"><feTurbulence type="fractalNoise" baseFrequency="0.13" numOctaves="2" seed="11" result="n"/><feColorMatrix in="n" type="matrix" values="0 0 0 0 0.12  0 0 0 0 0.25  0 0 0 0 0.5  0 1.3 0 0 -0.5"/></filter></defs>
<g clip-path="url(#cp4)">
<rect x="2650.2" y="1351.7" width="279.3" height="316.5" fill="url(#lg4)"/>
<g filter="url(#b5)">
<polygon points="2645.2,1346.7 2702.2,1346.7 2645.2,1389.7" fill="#4c7fb2"/>
<polygon points="2891.5,1347.7 2907.5,1347.7 2931.5,1421.7 2917.5,1421.7" fill="#5a8ab8" opacity="0.85"/>
<polygon points="2934.5,1626.2 2934.5,1673.2 2893.5,1673.2" fill="#27488a"/>
<polygon points="2645.2,1620.2 2680.2,1673.2 2645.2,1673.2" fill="#4a7cb4"/>
</g>
<rect x="2924.5" y="1351.7" width="5" height="256.5" fill="#dde4df" opacity="0.9"/>
<polygon points="2783.9,1362.8 2798.3,1388.1 2812.7,1409.7 2822.4,1421.8 2841.6,1420.5 2845.2,1441.0 2839.2,1465.0 2860.8,1469.8 2884.9,1457.8 2906.5,1449.4 2913.7,1455.4 2901.7,1484.3 2892.1,1508.3 2894.5,1525.1 2911.3,1529.9 2904.1,1546.8 2892.1,1563.6 2901.7,1582.8 2889.7,1594.9 2870.4,1599.7 2856.0,1611.7 2839.2,1609.3 2819.9,1618.9 2805.5,1616.5 2793.5,1602.1 2786.3,1623.7 2779.1,1650.2 2771.9,1655.0 2762.2,1650.2 2757.4,1628.5 2759.8,1604.5 2752.6,1590.1 2738.2,1602.1 2726.2,1602.1 2714.2,1590.1 2697.3,1585.3 2687.7,1570.8 2678.1,1549.2 2666.1,1532.4 2654.0,1517.9 2673.3,1505.9 2670.9,1484.3 2666.1,1460.2 2661.3,1436.2 2668.5,1426.6 2685.3,1436.2 2709.3,1457.8 2726.2,1467.4 2735.8,1455.4 2738.2,1431.4 2750.2,1412.1 2755.0,1402.5 2767.1,1402.5 2774.3,1383.3" fill="#3972ac" filter="url(#b2)"/>
<rect x="2650.2" y="1351.7" width="279.3" height="316.5" filter="url(#tex)" opacity="0.3"/>
<rect x="2650.2" y="1351.7" width="279.3" height="316.5" filter="url(#texd)" opacity="0.35"/>
</g>
<polygon points="1978.3,955.6 2086.2,955.6 2086.2,930.3 2144.4,985.5 2086.2,1041.8 2086.2,1013.8 1978.3,1013.8" fill="#6f3fa4" stroke="#dcc0ea" stroke-width="2"/>
<polygon points="2457,955.3 2563.2,955.3 2563.2,932.5 2620,985.5 2563.2,1041.5 2563.2,1013.2 2457,1013.2" fill="#a8a3a6" stroke="#dddadb" stroke-width="2"/>
<polygon points="2760,1163.2 2818,1163.2 2818,1271.6 2845,1271.6 2789,1327.7 2732.8,1271.6 2760,1271.6" fill="#6f3fa4" stroke="#dcc0ea" stroke-width="2"/>
<polygon points="2615.6,1472.8 2508.4,1472.8 2508.4,1447.7 2452.2,1501.8 2508.4,1557.2 2508.4,1530.9 2615.6,1530.9" fill="#a8a3a6" stroke="#dddadb" stroke-width="2"/>
<polygon points="2137.6,1472 2030,1472 2030,1446.5 1973.1,1501.8 2030,1558 2030,1531.6 2137.6,1531.6" fill="#6f3fa4" stroke="#dcc0ea" stroke-width="2"/>
</g>
</g></svg></body></html>
